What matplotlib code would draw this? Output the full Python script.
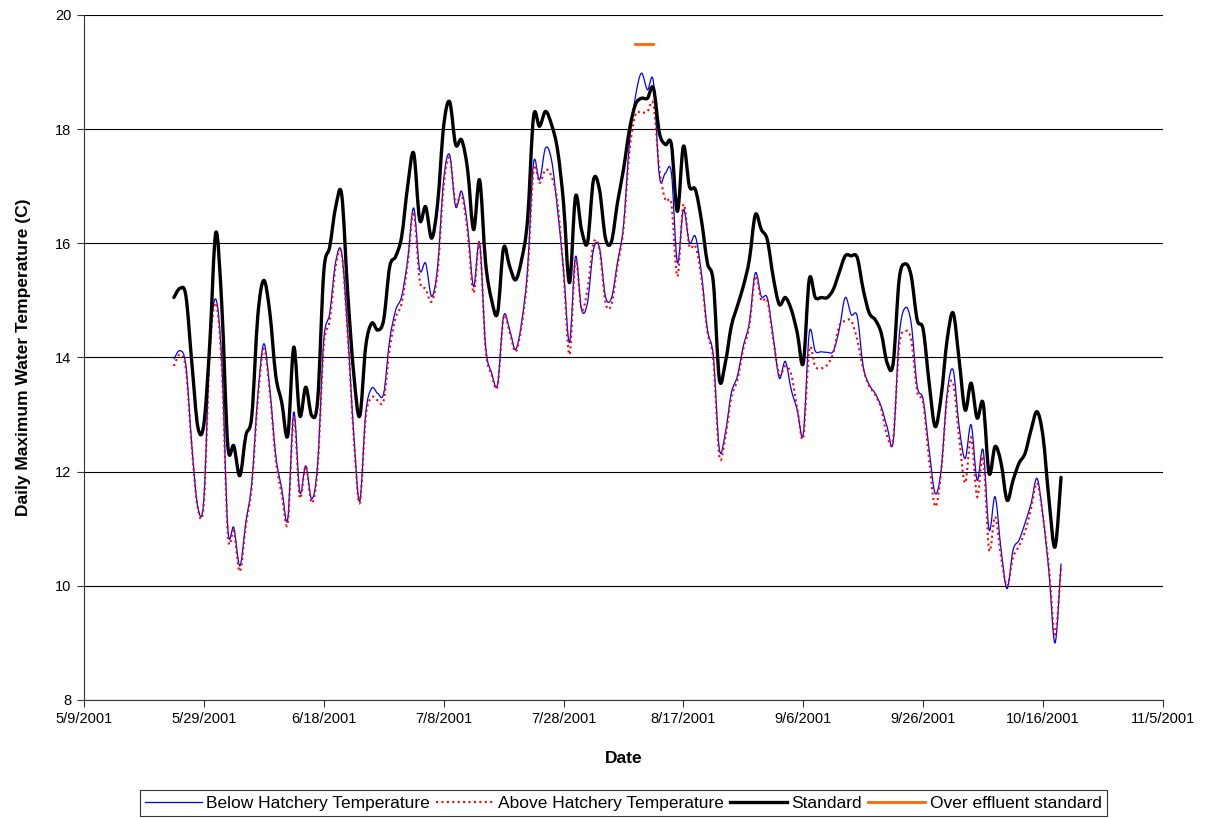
import numpy as np
import pandas as pd
import matplotlib
matplotlib.use("Agg")
import matplotlib.pyplot as plt
import matplotlib.dates as mdates
from matplotlib.lines import Line2D
from matplotlib.path import Path
from matplotlib.patches import PathPatch

plt.rcParams['font.family'] = ['Liberation Sans', 'DejaVu Sans']

# daily values, 5/24/2001 .. 10/19/2001
start_date = "2001-05-24"

below = [
    13.97, 14.12, 13.86, 12.45, 11.37, 11.52, 14.2, 15.02, 13.9, 11.0,
    11.02, 10.35, 11.11, 11.81, 13.33, 14.24, 13.45, 12.28, 11.7, 11.17,
    13.04, 11.64, 12.1, 11.52, 12.16, 14.3, 14.78, 15.68, 15.83, 14.43,
    12.67, 11.48, 13.02, 13.46, 13.37, 13.37, 14.31, 14.83, 15.07, 15.71,
    16.62, 15.54, 15.65, 15.07, 15.59, 17.11, 17.55, 16.64, 16.91, 16.29,
    15.24, 16.01, 14.2, 13.73, 13.53, 14.72, 14.49, 14.14, 14.61, 15.54,
    17.41, 17.11, 17.67, 17.46, 16.59, 15.54, 14.26, 15.77, 14.84, 14.96,
    15.89, 15.92, 15.07, 15.04, 15.66, 16.3, 17.76, 18.57, 18.98, 18.69,
    18.83, 17.17, 17.23, 17.23, 15.66, 16.59, 16.01, 16.12, 15.48, 14.49,
    14.02, 12.39, 12.68, 13.38, 13.67, 14.2, 14.61, 15.48, 15.07, 15.04,
    14.35, 13.64, 13.93, 13.43, 13.08, 12.66, 14.43, 14.11, 14.1, 14.09,
    14.11, 14.49, 15.05, 14.75, 14.72, 13.84, 13.52, 13.37, 13.14, 12.78,
    12.52, 14.37, 14.87, 14.6, 13.5, 13.26, 12.38, 11.62, 12.03, 13.37,
    13.78, 12.79, 12.23, 12.82, 11.85, 12.38, 10.98, 11.56, 10.63, 9.95,
    10.63, 10.8, 11.1, 11.44, 11.88, 11.21, 10.22, 9.0, 10.39,
]

above = [
    13.85, 14.05, 13.8, 12.4, 11.35, 11.45, 14.1, 14.95, 13.8, 10.9,
    10.95, 10.25, 11.05, 11.75, 13.25, 14.15, 13.4, 12.2, 11.6, 11.1,
    12.95, 11.55, 12.1, 11.45, 12.1, 14.2, 14.65, 15.6, 15.8, 14.4,
    12.6, 11.45, 12.95, 13.3, 13.25, 13.25, 14.15, 14.7, 14.95, 15.65,
    16.55, 15.36, 15.2, 14.98, 15.5, 17.0, 17.5, 16.7, 16.85, 16.2,
    15.13, 16.0, 14.15, 13.7, 13.5, 14.7, 14.45, 14.1, 14.55, 15.45,
    17.29, 17.06, 17.29, 17.17, 16.71, 15.5, 14.05, 15.7, 14.84, 15.19,
    16.0, 15.9, 14.96, 14.93, 15.6, 16.24, 17.6, 18.25, 18.28, 18.31,
    18.43, 17.29, 16.76, 16.68, 15.42, 16.68, 15.95, 15.95, 15.4, 14.45,
    13.95, 12.27, 12.6, 13.3, 13.6, 14.15, 14.55, 15.42, 15.0, 15.0,
    14.3, 13.7, 13.85, 13.7, 13.1, 12.6, 14.14, 13.84, 13.81, 13.87,
    14.08, 14.55, 14.64, 14.64, 14.31, 13.8, 13.5, 13.35, 13.1, 12.62,
    12.58, 14.2, 14.46, 14.31, 13.4, 13.2, 12.2, 11.39, 12.0, 13.3,
    13.55, 12.6, 11.8, 12.6, 11.56, 12.25, 10.63, 11.21, 10.5, 10.0,
    10.5, 10.7, 10.95, 11.35, 11.8, 11.2, 10.3, 9.15, 10.33,
]

standard = [
    15.05, 15.21, 15.08, 13.9, 12.78, 12.83, 14.27, 16.19, 14.9, 12.45,
    12.45, 11.93, 12.63, 12.98, 14.73, 15.35, 14.79, 13.68, 13.21, 12.63,
    14.18, 12.98, 13.48, 12.98, 13.27, 15.49, 15.94, 16.64, 16.85, 15.13,
    13.72, 12.97, 14.19, 14.6, 14.48, 14.66, 15.59, 15.77, 16.12, 17.0,
    17.58, 16.41, 16.64, 16.09, 16.7, 18.05, 18.48, 17.73, 17.81, 17.29,
    16.24, 17.11, 15.66, 15.01, 14.78, 15.92, 15.6, 15.36, 15.71, 16.41,
    18.22, 18.05, 18.31, 18.08, 17.64, 16.71, 15.31, 16.82, 16.24, 16.01,
    17.11, 16.94, 16.09, 16.03, 16.71, 17.29, 17.99, 18.43, 18.54, 18.54,
    18.72, 17.93, 17.73, 17.73, 16.56, 17.7, 17.0, 16.94, 16.41, 15.66,
    15.31, 13.62, 13.91, 14.55, 14.9, 15.25, 15.71, 16.5, 16.24, 16.06,
    15.4, 14.93, 15.05, 14.84, 14.43, 13.9, 15.37, 15.05, 15.05, 15.05,
    15.19, 15.49, 15.78, 15.78, 15.75, 15.19, 14.78, 14.66, 14.43, 13.9,
    13.9, 15.37, 15.64, 15.43, 14.66, 14.49, 13.55, 12.79, 13.32, 14.31,
    14.78, 13.96, 13.08, 13.55, 12.94, 13.2, 11.97, 12.44, 12.15, 11.5,
    11.85, 12.15, 12.32, 12.73, 13.05, 12.61, 11.5, 10.68, 11.9,
]

over_dates = ["2001-08-09", "2001-08-10", "2001-08-11", "2001-08-12"]
over_values = [19.5, 19.5, 19.5, 19.5]

dates = pd.date_range(start_date, periods=len(below), freq="D")
over_dates = pd.to_datetime(over_dates)


def smooth_line(ax, x, y, **kw):
    # Excel-style smoothed line: cubic Bezier through the data points
    x = mdates.date2num(x)
    y = np.asarray(y, dtype=float)
    n = len(x)
    verts = [(x[0], y[0])]
    codes = [Path.MOVETO]
    for i in range(n - 1):
        i0 = max(i - 1, 0)
        i3 = min(i + 2, n - 1)
        c1 = (x[i] + (x[i + 1] - x[i0]) / 6, y[i] + (y[i + 1] - y[i0]) / 6)
        c2 = (x[i + 1] - (x[i3] - x[i]) / 6, y[i + 1] - (y[i3] - y[i]) / 6)
        verts += [c1, c2, (x[i + 1], y[i + 1])]
        codes += [Path.CURVE4] * 3
    patch = PathPatch(Path(verts, codes), fill=False, **kw)
    ax.add_patch(patch)
    return patch


fig = plt.figure(figsize=(12.1, 8.18), dpi=100)
ax = fig.add_axes([0.0694, 0.1443, 0.8917, 0.8374])

blue_style = dict(color="#0000FF", lw=0.9)
red_style = dict(color="#FF0000", lw=1.5, ls=(0, (1, 1.6)))
black_style = dict(color="black", lw=2.4)
orange_style = dict(color="#FF6600", lw=2.0)

smooth_line(ax, dates, below, edgecolor=blue_style["color"], lw=blue_style["lw"])
smooth_line(ax, dates, above, edgecolor=red_style["color"], lw=red_style["lw"],
            linestyle=red_style["ls"])
smooth_line(ax, dates, standard, edgecolor="black", lw=black_style["lw"],
            joinstyle="round", capstyle="round")
ax.plot(over_dates, over_values, **orange_style)

ax.set_ylim(8, 20)
ax.set_yticks(range(8, 21, 2))
ax.set_xlim(pd.Timestamp("2001-05-09"), pd.Timestamp("2001-11-05"))
ax.set_xticks(pd.date_range("2001-05-09", periods=10, freq="20D"))
ax.xaxis.set_major_formatter(
    plt.FuncFormatter(lambda v, p: (lambda d: f"{d.month}/{d.day}/{d.year}")(mdates.num2date(v))))

ax.grid(axis="y", color="black", lw=0.8)
ax.set_axisbelow(True)
for s in ["top", "right"]:
    ax.spines[s].set_visible(False)
ax.spines["left"].set_color("#333333")
ax.spines["bottom"].set_color("#333333")
ax.tick_params(axis="both", labelsize=10.5, length=5, width=0.8, color="#333333", pad=4)

ax.set_xlabel("Date", fontsize=12.5, fontweight="bold", labelpad=18)
ax.set_ylabel("Daily Maximum Water Temperature (C)", fontsize=12.5, fontweight="bold",
              labelpad=17)

handles = [
    Line2D([], [], **blue_style),
    Line2D([], [], **red_style),
    Line2D([], [], **black_style),
    Line2D([], [], **orange_style),
]
labels = ["Below Hatchery Temperature", "Above Hatchery Temperature", "Standard",
          "Over effluent standard"]
leg = fig.legend(handles, labels, loc="center", bbox_to_anchor=(0.515, 0.018), ncol=4,
                 fontsize=12.5, frameon=True, fancybox=False, edgecolor="black",
                 handlelength=3.3, handletextpad=0.25, columnspacing=0.35,
                 borderpad=0.3, borderaxespad=0)
leg.get_frame().set_linewidth(0.8)

fig.savefig("out.png", dpi=100)
